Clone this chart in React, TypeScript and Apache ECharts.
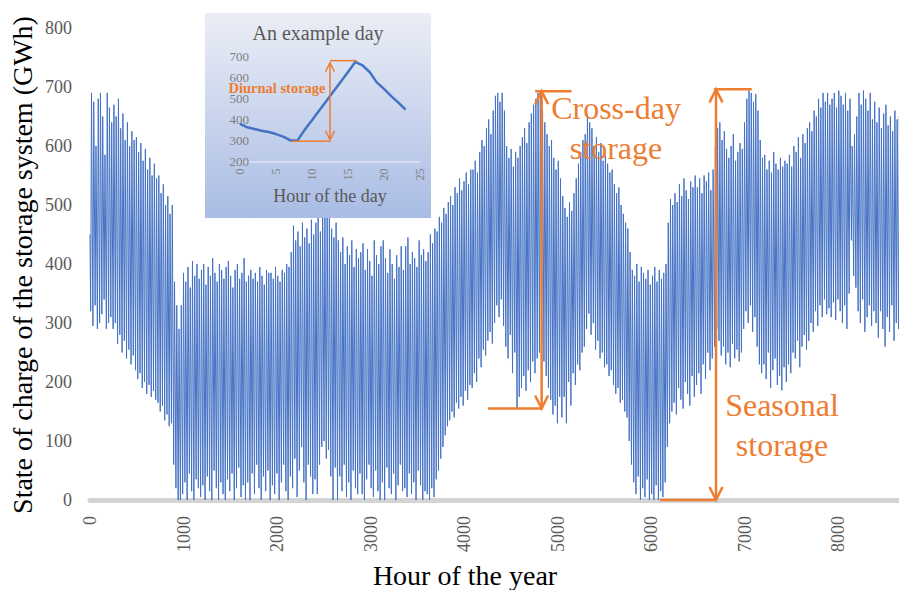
import React, { useEffect, useRef } from "react";
import * as echarts from "echarts";

// ---- Data ----
const X_MAX_VISIBLE = 8652; // hours visible in the (cropped) reference
const START_VALUE = 450; // state of charge at hour 0
const TROUGH_HOUR = 7; // hour of the daily minimum (from the example day)
const PEAK_HOUR = 16; // hour of the daily maximum (from the example day)

// Daily maxima (GWh), 10 days per row
const DAILY_HIGHS = [
  690, 675, 600, 680, 690, 650, 585, 690, 665, 640,
  670, 650, 680, 630, 655, 610, 640, 600, 625, 610,
  615, 590, 605, 575, 595, 560, 580, 550, 570, 545,
  550, 520, 535, 500, 515, 485, 500, 370, 330, 290,
  330, 385, 370, 395, 360, 405, 380, 400, 375, 390,
  400, 365, 395, 380, 410, 385, 370, 400, 390, 375,
  395, 405, 380, 360, 390, 400, 375, 385, 410, 370,
  380, 390, 375, 385, 370, 395, 380, 365, 390, 385,
  385, 375, 395, 380, 370, 390, 385, 400, 395, 420,
  465, 440, 455, 430, 470, 445, 460, 435, 475, 450,
  470, 485, 455, 500, 490, 505, 480, 460, 445, 470,
  440, 420, 445, 400, 430, 415, 440, 395, 425, 410,
  420, 435, 390, 425, 405, 380, 440, 415, 400, 430,
  440, 410, 385, 425, 400, 375, 415, 395, 430, 390,
  430, 445, 400, 420, 410, 395, 440, 415, 425, 405,
  420, 450, 435, 460, 455, 480, 470, 495, 485, 505,
  515, 500, 530, 520, 545, 525, 540, 555, 535, 560,
  560, 575, 555, 590, 610, 600, 630, 645, 620, 660,
  685, 690, 675, 690, 660, 600, 580, 595, 565, 590,
  580, 600, 615, 630, 605, 640, 655, 670, 680, 690,
  685, 660, 640, 620, 600, 610, 580, 560, 575, 545,
  515, 495, 480, 505, 490, 520, 545, 570, 590, 610,
  620, 655, 640, 630, 600, 615, 590, 605, 575, 585,
  570, 555, 560, 535, 520, 530, 500, 485, 470, 460,
  420, 390, 380, 400, 370, 395, 385, 375, 390, 365,
  380, 395, 370, 390, 375, 385, 400, 470, 510, 500,
  520, 505, 535, 515, 545, 525, 510, 540, 530, 550,
  530, 545, 520, 550, 540, 555, 525, 560, 600, 630,
  640, 610, 625, 595, 580, 600, 620, 575, 590, 605,
  595, 640, 680, 694, 690, 675, 688, 660, 610, 580,
  585, 560, 575, 555, 590, 570, 560, 580, 565, 575,
  570, 585, 565, 600, 590, 615, 580, 620, 605, 630,
  640, 625, 660, 650, 680, 665, 690, 675, 690, 670,
  680, 690, 665, 694, 685, 670, 690, 660, 680, 600,
  620, 650, 690, 670, 694, 680, 660, 690, 645, 675,
  640, 665, 630, 655, 670, 635, 650, 625, 660, 645,
  650, 640,
];

// Daily minima (GWh), 10 days per row
const DAILY_LOWS = [
  320, 295, 330, 290, 300, 315, 340, 290, 300, 310,
  290, 300, 265, 280, 250, 270, 240, 255, 230, 245,
  220, 205, 215, 190, 200, 180, 195, 175, 185, 170,
  165, 150, 160, 135, 145, 125, 130, 60, 20, 0,
  0, 10, 30, 0, 45, 15, 0, 35, 20, 5,
  25, 0, 40, 15, 0, 50, 20, 0, 30, 10,
  0, 35, 15, 45, 0, 20, 55, 5, 25, 0,
  30, 0, 45, 10, 60, 20, 0, 40, 15, 50,
  0, 25, 10, 45, 0, 30, 60, 15, 0, 40,
  20, 70, 5, 50, 90, 30, 0, 60, 40, 10,
  35, 10, 60, 90, 100, 70, 85, 40, 0, 55,
  0, 40, 15, 60, 5, 30, 0, 50, 20, 10,
  45, 10, 0, 35, 60, 20, 5, 50, 15, 0,
  30, 0, 55, 20, 10, 45, 0, 25, 60, 15,
  20, 5, 45, 10, 30, 0, 50, 25, 0, 15,
  10, 0, 20, 5, 35, 50, 70, 90, 110, 125,
  135, 150, 140, 165, 155, 175, 160, 185, 170, 195,
  190, 215, 200, 240, 225, 255, 245, 270, 285, 265,
  300, 330, 310, 340, 295, 260, 240, 280, 215, 250,
  155, 175, 190, 210, 185, 220, 200, 235, 215, 240,
  250, 265, 235, 210, 190, 170, 145, 160, 130, 175,
  140, 175, 130, 200, 160, 215, 195, 230, 220, 250,
  260, 290, 316, 280, 300, 255, 270, 240, 250, 225,
  230, 210, 220, 195, 180, 190, 165, 170, 150, 140,
  100, 60, 30, 10, 40, 0, 20, 5, 35, 0,
  10, 0, 25, 0, 15, 5, 30, 90, 130, 150,
  165, 145, 190, 170, 155, 200, 180, 160, 210, 175,
  195, 215, 180, 230, 205, 250, 220, 240, 260, 290,
  270, 245, 260, 230, 250, 225, 265, 240, 255, 235,
  250, 290, 320, 300, 330, 285, 310, 260, 230, 215,
  230, 205, 250, 190, 220, 240, 195, 210, 186, 225,
  200, 230, 215, 250, 240, 270, 225, 260, 280, 255,
  270, 300, 285, 320, 295, 330, 310, 340, 315, 325,
  310, 335, 305, 340, 320, 300, 330, 290, 350, 440,
  380, 360, 320, 300, 340, 285, 310, 330, 295, 320,
  300, 275, 320, 290, 260, 310, 285, 330, 270, 300,
  290, 310,
];

// Inset: an example day
const EXAMPLE_HOURS = [
  0, 1, 2, 3, 4, 5, 6, 7, 8, 9, 10, 11,
  12, 13, 14, 15, 16, 17, 18, 19, 20, 21, 22, 23,
];
const EXAMPLE_VALUES = [
  378, 362, 354, 346, 340, 330, 318, 300, 300, 351, 395, 442,
  487, 533, 578, 624, 672, 656, 624, 575, 544, 510, 479, 446,
];

// Annotation ranges (data space)
const CROSS_DAY_HOUR = 4830;
const CROSS_DAY_RANGE = [155, 693];
const CROSS_DAY_TOP_SPAN = [4760, 5150];
const CROSS_DAY_BOTTOM_SPAN = [4255, 4830];
const SEASONAL_HOUR = 6695;
const SEASONAL_RANGE = [0, 696];
const SEASONAL_TOP_SPAN = [6674, 7077];
const SEASONAL_BOTTOM_SPAN = [6096, 6695];
const DIURNAL_HOUR = 12.5;
const DIURNAL_RANGE = [303, 668];
const DIURNAL_TOP = 678;
const DIURNAL_BOTTOM = 296;
const DIURNAL_TOP_SPAN = [12.5, 16.2];
const DIURNAL_BOTTOM_SPAN = [7.2, 12.6];

const FONT = "'Liberation Serif', 'Times New Roman', Times, serif";
const ORANGE = "#ED7D31";
const BLUE = "#4472C4";
const GRAY = "#595959";

function buildYear(): number[][] {
  const pts: number[][] = [[0, START_VALUE]];
  DAILY_HIGHS.forEach((hi, d) => {
    pts.push([d * 24 + TROUGH_HOUR, DAILY_LOWS[d]]);
    pts.push([d * 24 + PEAK_HOUR, hi]);
  });
  return pts;
}

export default function App() {
  const ref = useRef<HTMLDivElement>(null);

  useEffect(() => {
    if (!ref.current) return;
    const chart = echarts.init(ref.current, null, { renderer: "svg" });

    const option: any = {
      animation: false,
      backgroundColor: "#ffffff",
      grid: [
        { left: 90, right: 0, top: 28, bottom: 90 },
        { left: 240, top: 56, width: 180, height: 105.5, z: 11 },
      ],
      xAxis: [
        {
          type: "value",
          gridIndex: 0,
          min: 0,
          max: X_MAX_VISIBLE,
          interval: 1000,
          axisLine: { show: true, onZero: false, lineStyle: { color: "#d4d4d4", width: 5 } },
          axisTick: { show: false },
          splitLine: { show: false },
          axisLabel: {
            rotate: 90,
            margin: 16,
            color: GRAY,
            fontSize: 18,
            fontFamily: FONT,
            showMaxLabel: false,
            formatter: (v: number) => String(v),
          },
        },
        {
          type: "value",
          gridIndex: 1,
          min: 0,
          max: 25,
          interval: 5,
          z: 11,
          axisLine: { show: true, onZero: false, lineStyle: { color: "#dfe4f1", width: 1.5 } },
          axisTick: { show: false },
          splitLine: { show: false },
          axisLabel: {
            rotate: 90,
            margin: 7,
            color: "#7f7f7f",
            fontSize: 12,
            fontFamily: FONT,
          },
        },
      ],
      yAxis: [
        {
          type: "value",
          gridIndex: 0,
          min: 0,
          max: 800,
          interval: 100,
          axisLine: { show: false },
          axisTick: { show: false },
          splitLine: { show: false },
          axisLabel: { margin: 18, color: GRAY, fontSize: 18, fontFamily: FONT },
        },
        {
          type: "value",
          gridIndex: 1,
          min: 200,
          max: 700,
          interval: 100,
          z: 11,
          offset: -10,
          axisLine: { show: false },
          axisTick: { show: false },
          splitLine: { show: false },
          axisLabel: { margin: 1, color: "#7f7f7f", fontSize: 13, fontFamily: FONT },
        },
      ],
      series: [
        {
          type: "line",
          xAxisIndex: 0,
          yAxisIndex: 0,
          data: buildYear(),
          showSymbol: false,
          symbol: "none",
          silent: true,
          z: 2,
          lineStyle: { color: BLUE, width: 1 },
        },
        {
          type: "line",
          xAxisIndex: 1,
          yAxisIndex: 1,
          data: EXAMPLE_HOURS.map((h, i) => [h, EXAMPLE_VALUES[i]]),
          showSymbol: false,
          symbol: "none",
          silent: true,
          z: 11,
          lineStyle: { color: BLUE, width: 2.5 },
        },
      ],
    };
    chart.setOption(option);

    const px = (gi: number, x: number, y: number) =>
      chart.convertToPixel({ xAxisIndex: gi, yAxisIndex: gi } as any, [x, y]) as number[];

    const seg = (a: number[], b: number[], w: number) => ({
      type: "line",
      z: 12,
      silent: true,
      shape: { x1: a[0], y1: a[1], x2: b[0], y2: b[1] },
      style: { stroke: ORANGE, lineWidth: w },
    });
    const chevron = (tip: number[], dir: number, hw: number, hh: number, w: number) => ({
      type: "polyline",
      z: 12,
      silent: true,
      shape: {
        points: [
          [tip[0] - hw, tip[1] + dir * hh],
          [tip[0], tip[1]],
          [tip[0] + hw, tip[1] + dir * hh],
        ],
      },
      style: { stroke: ORANGE, lineWidth: w, fill: null },
    });
    const doubleArrow = (
      gi: number, hour: number, range: number[],
      topY: number, topSpan: number[], botY: number, botSpan: number[],
      w: number, hw: number, hh: number
    ) => {
      const top = px(gi, hour, range[1]);
      const bot = px(gi, hour, range[0]);
      return [
        seg(top, bot, w),
        chevron(top, 1, hw, hh, w),
        chevron(bot, -1, hw, hh, w),
        seg(px(gi, topSpan[0], topY), px(gi, topSpan[1], topY), w),
        seg(px(gi, botSpan[0], botY), px(gi, botSpan[1], botY), w),
      ];
    };
    const text = (
      t: string, x: number, y: number, size: number, color: string,
      extra: any = {}
    ) => ({
      type: "text",
      z: 12,
      silent: true,
      x,
      y,
      rotation: extra.rotation || 0,
      style: {
        text: t,
        fill: color,
        fontSize: size,
        fontFamily: FONT,
        fontWeight: extra.fontWeight || "normal",
        textAlign: extra.align || "center",
        textVerticalAlign: "middle",
      },
    });

    const graphic: any[] = [
      {
        type: "rect",
        z: 10,
        silent: true,
        shape: { x: 205, y: 13, width: 226, height: 205 },
        style: {
          fill: new echarts.graphic.LinearGradient(0, 0, 0, 1, [
            { offset: 0, color: "#eceef6" },
            { offset: 1, color: "#a8bce4" },
          ]),
        },
      },
      text("An example day", 318, 33, 20, GRAY),
      text("Hour of the day", 330, 196, 18, GRAY),
      text("Diurnal storage", 277, 88, 14.5, ORANGE, { fontWeight: "bold" }),
      text("State of charge of the storage system (GWh)", 22, 265, 28, "#000000", {
        rotation: Math.PI / 2,
      }),
      text("Hour of the year", 465, 575, 28, "#000000"),
      text("Cross-day", 616, 108, 32, ORANGE),
      text("storage", 616, 148, 32, ORANGE),
      text("Seasonal", 782, 405, 32, ORANGE),
      text("storage", 782, 445, 32, ORANGE),
      ...doubleArrow(0, CROSS_DAY_HOUR, CROSS_DAY_RANGE, CROSS_DAY_RANGE[1], CROSS_DAY_TOP_SPAN,
        CROSS_DAY_RANGE[0], CROSS_DAY_BOTTOM_SPAN, 2.5, 6.5, 13),
      ...doubleArrow(0, SEASONAL_HOUR, SEASONAL_RANGE, SEASONAL_RANGE[1], SEASONAL_TOP_SPAN,
        SEASONAL_RANGE[0], SEASONAL_BOTTOM_SPAN, 2.5, 6.5, 13),
      ...doubleArrow(1, DIURNAL_HOUR, DIURNAL_RANGE, DIURNAL_TOP, DIURNAL_TOP_SPAN,
        DIURNAL_BOTTOM, DIURNAL_BOTTOM_SPAN, 1.5, 4.5, 9),
    ];
    chart.setOption({ graphic });

    return () => chart.dispose();
  }, []);

  return (
    <div
      ref={ref}
      style={{ position: "fixed", left: 0, top: 0, width: 899, height: 590, background: "#fff" }}
    />
  );
}
